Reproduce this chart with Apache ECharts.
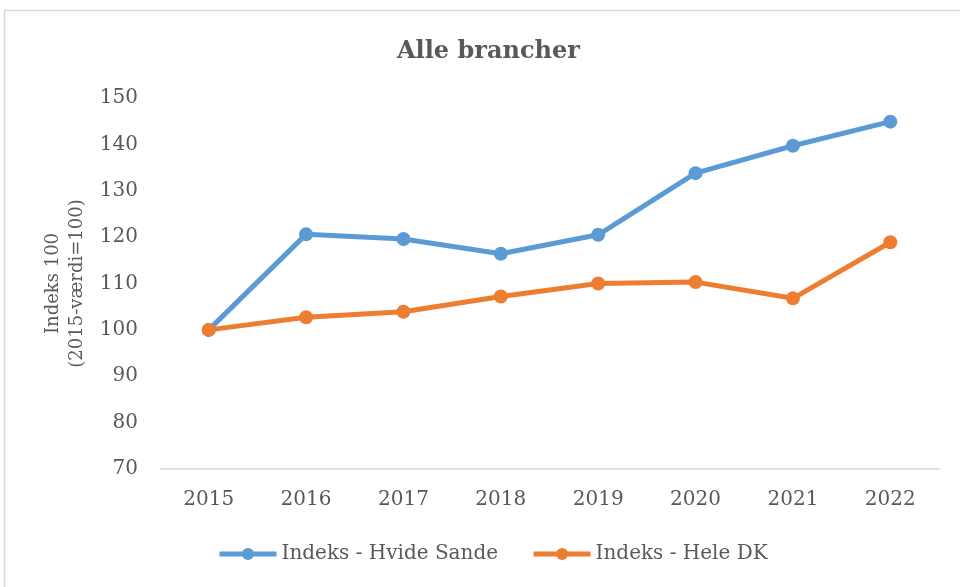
<!DOCTYPE html>
<html>
<head>
<meta charset="utf-8">
<script src="https://cdn.jsdelivr.net/npm/echarts@6/dist/echarts.min.js"></script>
<style>
  html, body { margin: 0; padding: 0; background: #fff; }
  #main { width: 960px; height: 587px; }
</style>
</head>
<body>
<div id="main"></div>
<script>
const years = ['2015', '2016', '2017', '2018', '2019', '2020', '2021', '2022']
const hvideSande = [100, 120.6, 119.6, 116.4, 120.5, 133.8, 139.7, 144.9]
const heleDK = [100, 102.7, 103.9, 107.2, 110.0, 110.3, 106.8, 118.9]
const yTicks = [70, 80, 90, 100, 110, 120, 130, 140, 150]

const textColor = '#595959'
const serif = '"DejaVu Serif", "Liberation Serif", serif'

const chart = echarts.init(document.getElementById('main'))
chart.setOption({
  animation: false,
  backgroundColor: '#fff',
  title: {
    text: 'Alle brancher',
    left: 392,
    top: 35,
    textStyle: { fontFamily: serif, fontSize: 24, fontWeight: 'bold', color: textColor }
  },
  graphic: [{
    type: 'rect',
    shape: { x: 4.5, y: 10.5, width: 970, height: 600 },
    style: { fill: 'none', stroke: '#d9d9d9', lineWidth: 1.5 }
  }],
  legend: {
    bottom: 18,
    left: 212,
    itemWidth: 57,
    itemHeight: 15,
    itemGap: 33,
    lineStyle: { width: 5 },
    textStyle: { fontFamily: serif, fontSize: 20, color: textColor },
    data: ['Indeks - Hvide Sande', 'Indeks - Hele DK']
  },
  grid: { left: 160, right: 21, top: 98, bottom: 118 },
  xAxis: {
    type: 'category',
    data: years,
    axisLine: { lineStyle: { color: '#d9d9d9', width: 1.5 } },
    axisTick: { show: false },
    axisLabel: { fontFamily: serif, fontSize: 20, color: textColor, margin: 21 }
  },
  yAxis: {
    type: 'value',
    min: yTicks[0],
    max: yTicks[yTicks.length - 1],
    interval: 10,
    name: 'Indeks 100\n(2015-værdi=100)',
    nameLocation: 'middle',
    nameGap: 62,
    nameTextStyle: { fontFamily: serif, fontSize: 18, color: textColor, lineHeight: 24 },
    axisLine: { show: false },
    axisTick: { show: false },
    splitLine: { show: false },
    axisLabel: { fontFamily: serif, fontSize: 20, color: textColor, margin: 22 }
  },
  series: [
    {
      name: 'Indeks - Hvide Sande',
      type: 'line',
      data: hvideSande,
      symbol: 'circle',
      symbolSize: 14,
      lineStyle: { width: 5, color: '#5b9bd5' },
      itemStyle: { color: '#5b9bd5' }
    },
    {
      name: 'Indeks - Hele DK',
      type: 'line',
      data: heleDK,
      symbol: 'circle',
      symbolSize: 14,
      lineStyle: { width: 5, color: '#ed7d31' },
      itemStyle: { color: '#ed7d31' }
    }
  ]
})
</script>
</body>
</html>
